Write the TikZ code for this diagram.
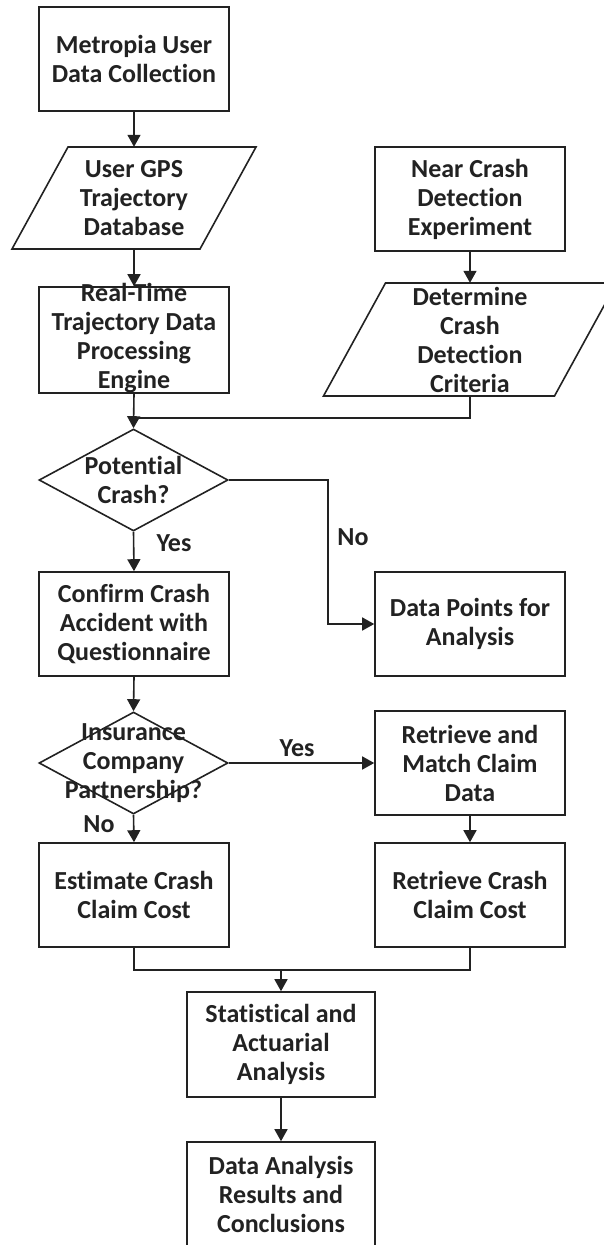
\documentclass[tikz,border=0pt]{standalone}
\usepackage{fontspec}
\setmainfont{Carlito}[RawFeature={-liga;-clig;-calt;-dlig}]
\usetikzlibrary{arrows.meta,shapes.geometric,calc}
\definecolor{ink}{HTML}{222222}
% keeps "t" and "i" as separate glyphs
\newcommand{\tiSplit}{t\kern0pt i}
\begin{document}
\begin{tikzpicture}[x=1pt,y=-1pt,
  font=\fontsize{26}{29}\selectfont\bfseries,
  every node/.style={text=ink, align=center, inner sep=0pt},
  procbox/.style={draw=ink, line width=1.6pt, minimum width=190pt, minimum height=104pt},
  decision/.style={diamond, draw=ink, line width=1.6pt, minimum width=189pt, minimum height=102pt},
  flow/.style={draw=ink, line width=1.6pt},
  arrow/.style={flow, -{Triangle[length=12pt,width=13pt]}}
]
\clip (0,0) rectangle (604,1245);

% left column
\node[procbox] (collect) at (134,59) {Metropia User\\Data Collec\tiSplit on};

\node[minimum height=102pt] (gpsdb) at (134,198) {User GPS\\Trajectory\\Database};
\draw[flow] ($(gpsdb.center)+(-122,51)$) -- ++(188,0) -- ++(56,-102) -- ++(-188,0) -- cycle;

\node[procbox, minimum height=106pt] (engine) at (134,340) {};
\node (enginetext) at ($(engine.center)+(0,-2)$) {Real-Time\\Trajectory Data\\Processing\\Engine};

\node[decision] (potential) at (133.5,480) {};
\node (potentialtext) at (potential.center) {Poten\tiSplit al\\Crash?};

\node[procbox] (confirm) at (134,624) {Confirm Crash\\Accident with\\Questionnaire};

\node[decision] (insurer) at (133.5,763) {};
\node (insurertext) at (insurer.center) {Insurance\\Company\\Partnership?};

\node[procbox] (estimate) at (134,895) {Es\tiSplit mate Crash\\Claim Cost};

% right column
\node[procbox] (nearcrash) at (470,199) {Near Crash\\Detec\tiSplit on\\Experiment};

\node[minimum height=113pt] (criteria) at (470,339.5) {Determine\\Crash\\Detec\tiSplit on\\Criteria};
\draw[flow] ($(criteria.center)+(-146.5,56.5)$) -- ++(231,0) -- ++(62,-113) -- ++(-231,0) -- cycle;

\node[procbox] (points) at (470,624) {Data Points for\\Analysis};
\node[procbox] (match) at (470,763) {Retrieve and\\Match Claim\\Data};
\node[procbox] (retrieve) at (470,895) {Retrieve Crash\\Claim Cost};

% bottom
\node[procbox, minimum width=188pt, minimum height=105pt] (stats) at (281,1044.5) {Sta\tiSplit s\tiSplit cal and\\Actuarial\\Analysis};
\node[procbox, minimum width=188pt] (results) at (281,1194) {Data Analysis\\Results and\\Conclusions};

% branch labels
\node (yesA) at (174,543) {Yes};
\node (noA) at (353,537) {No};
\node (yesB) at (297,748) {Yes};
\node (noB) at (99,824) {No};

% connectors
\coordinate (joinA) at (134,418);
\coordinate (nobend) at (328,480);
\coordinate (joinB) at (281,970);

\draw[arrow] (collect.south) -- (gpsdb.north);
\draw[arrow] (gpsdb.south) -- (engine.north);
\draw[arrow] (nearcrash.south) -- (criteria.north);
\draw[flow] (criteria.south) |- (joinA);
\draw[arrow] (engine.south) -- (potential.north);
\draw[arrow] (potential.east) -- (nobend) |- (points.west);
\draw[arrow] (potential.south) -- (confirm.north);
\draw[arrow] (confirm.south) -- (insurer.north);
\draw[arrow] (insurer.east) -- (match.west);
\draw[arrow] (insurer.south) -- (estimate.north);
\draw[arrow] (match.south) -- (retrieve.north);
\draw[flow] (estimate.south) |- (joinB) -| (retrieve.south);
\draw[arrow] (joinB) -- (stats.north);
\draw[arrow] (stats.south) -- (results.north);
\end{tikzpicture}
\end{document}
